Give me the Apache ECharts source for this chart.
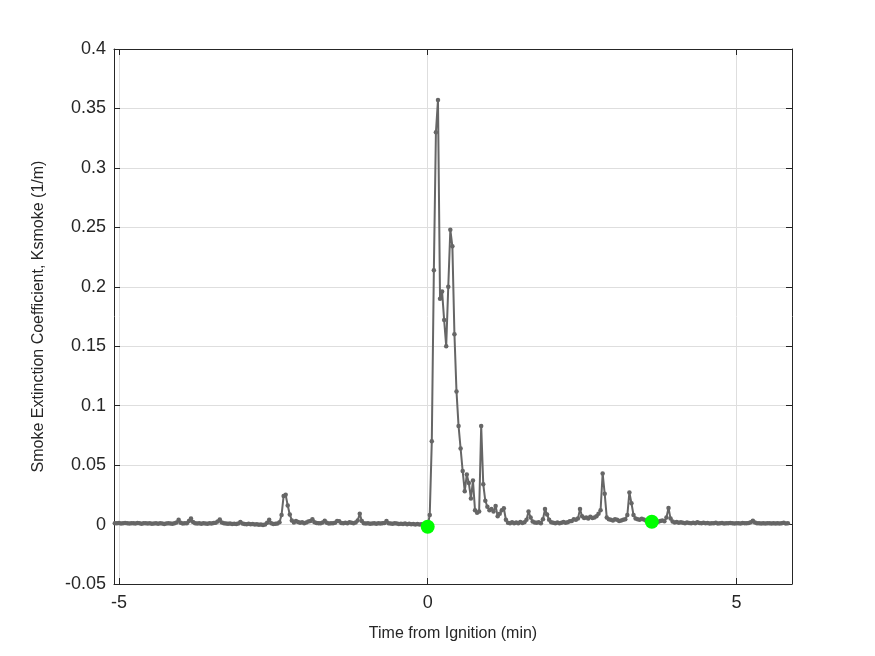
<!DOCTYPE html>
<html>
<head>
<meta charset="utf-8">
<script src="https://cdn.jsdelivr.net/npm/echarts@6/dist/echarts.min.js"></script>
<style>
  html, body { margin: 0; padding: 0; background: #fff; }
  #chart { width: 875px; height: 656px; }
</style>
</head>
<body>
<div id="chart"></div>
<script>
// samples every 2 s, index 152 is ignition (t = 0)
const stepMin = 1 / 30;
const ignitionIndex = 152;

const ksmoke = [
  0.0012, 0.0010, 0.0013, 0.0009, 0.0011, 0.0014, 0.0010, 0.0008, 0.0012, 0.0011,
  0.0009, 0.0013, 0.0010, 0.0007, 0.0011, 0.0012, 0.0008, 0.0010, 0.0006, 0.0009,
  0.0011, 0.0007, 0.0010, 0.0008, 0.0005, 0.0009, 0.0012, 0.0008, 0.0006, 0.0010,
  0.0018, 0.0040, 0.0015, 0.0008, 0.0010, 0.0012, 0.0030, 0.0050, 0.0022, 0.0011,
  0.0009, 0.0012, 0.0007, 0.0010, 0.0008, 0.0006, 0.0011, 0.0009, 0.0013, 0.0016,
  0.0025, 0.0042, 0.0018, 0.0010, 0.0008, 0.0006, 0.0009, 0.0004, 0.0007, 0.0005,
  0.0009, 0.0022, 0.0008, 0.0005, 0.0003, 0.0006, 0.0002, 0.0004, 0.0000, 0.0003,
  -0.0002, 0.0001, -0.0004, 0.0000, 0.0015, 0.0040, 0.0012, 0.0004, 0.0006, 0.0008,
  0.0020, 0.0080, 0.0240, 0.0250, 0.0160, 0.0085, 0.0035, 0.0018, 0.0030, 0.0022,
  0.0015, 0.0020, 0.0012, 0.0018, 0.0025, 0.0030, 0.0045, 0.0020, 0.0014, 0.0010,
  0.0012, 0.0018, 0.0032, 0.0015, 0.0008, 0.0012, 0.0010, 0.0016, 0.0030, 0.0028,
  0.0014, 0.0010, 0.0016, 0.0012, 0.0020, 0.0015, 0.0011, 0.0018, 0.0035, 0.0090,
  0.0030, 0.0012, 0.0008, 0.0010, 0.0006, 0.0009, 0.0012, 0.0007, 0.0010, 0.0008,
  0.0011, 0.0014, 0.0030, 0.0012, 0.0009, 0.0006, 0.0010, 0.0008, 0.0005, 0.0007,
  0.0004, 0.0008, 0.0003, 0.0006, 0.0002, 0.0005, 0.0001, 0.0004, 0.0000, 0.0003,
  0.0000, 0.0001, -0.0010, 0.0080, 0.0700, 0.2140, 0.3300, 0.3570, 0.1900, 0.1960,
  0.1720, 0.1500, 0.2000, 0.2480, 0.2340, 0.1600, 0.1120, 0.0830, 0.0640, 0.0450,
  0.0280, 0.0420, 0.0350, 0.0220, 0.0370, 0.0120, 0.0100, 0.0110, 0.0830, 0.0340,
  0.0200, 0.0150, 0.0120, 0.0130, 0.0110, 0.0156, 0.0070, 0.0090, 0.0120, 0.0137,
  0.0040, 0.0015, 0.0010, 0.0020, 0.0012, 0.0018, 0.0010, 0.0022, 0.0014, 0.0020,
  0.0040, 0.0110, 0.0060, 0.0025, 0.0018, 0.0015, 0.0020, 0.0012, 0.0045, 0.0130,
  0.0085, 0.0040, 0.0020, 0.0015, 0.0010, 0.0018, 0.0012, 0.0015, 0.0022, 0.0016,
  0.0020, 0.0028, 0.0030, 0.0045, 0.0040, 0.0050, 0.0130, 0.0070, 0.0055, 0.0060,
  0.0050, 0.0065, 0.0055, 0.0060, 0.0070, 0.0090, 0.0120, 0.0430, 0.0260, 0.0060,
  0.0045, 0.0040, 0.0035, 0.0045, 0.0040, 0.0030, 0.0035, 0.0040, 0.0045, 0.0080,
  0.0270, 0.0180, 0.0080, 0.0050, 0.0045, 0.0040, 0.0048, 0.0042, 0.0035, 0.0030,
  0.0028, 0.0025, 0.0022, 0.0020, 0.0024, 0.0030, 0.0035, 0.0028, 0.0060, 0.0140,
  0.0050, 0.0025, 0.0018, 0.0022, 0.0015, 0.0020, 0.0016, 0.0012, 0.0018, 0.0014,
  0.0010, 0.0016, 0.0012, 0.0020, 0.0013, 0.0010, 0.0015, 0.0011, 0.0014, 0.0009,
  0.0012, 0.0010, 0.0015, 0.0008, 0.0011, 0.0013, 0.0009, 0.0012, 0.0010, 0.0014,
  0.0011, 0.0008, 0.0012, 0.0010, 0.0009, 0.0013, 0.0011, 0.0010, 0.0014, 0.0020,
  0.0033, 0.0018, 0.0010, 0.0012, 0.0008, 0.0011, 0.0009, 0.0012, 0.0010, 0.0008,
  0.0011, 0.0009, 0.0012, 0.0008, 0.0010, 0.0015, 0.0009, 0.0011
];

// ignition and end-of-burn markers
const eventTimes = [0, 3.63];
const eventK = [-0.0018, 0.0024];

const xTicks = [-5, 0, 5];

const lineData = ksmoke.map((v, i) => [(i - ignitionIndex) * stepMin, v]);
const eventData = eventTimes.map((t, i) => [t, eventK[i]]);

const axisColor = "#262626";
const gridColor = "#dedede";
const font = "'Liberation Sans', Arial, sans-serif";

const chart = echarts.init(document.getElementById("chart"));

const baseX = {
  type: "value",
  min: -5.08,
  max: 5.9,
  axisLine: { show: true, onZero: false, lineStyle: { color: axisColor, width: 1 } },
  axisTick: { show: true, inside: true, length: 6, customValues: xTicks, lineStyle: { color: axisColor } },
  axisLabel: { show: false, customValues: xTicks },
  splitLine: { show: false }
};

const baseY = {
  type: "value",
  min: -0.05,
  max: 0.4,
  interval: 0.05,
  axisLine: { show: true, onZero: false, lineStyle: { color: axisColor, width: 1 } },
  axisTick: { show: true, inside: true, length: 6, lineStyle: { color: axisColor } },
  axisLabel: { show: false },
  splitLine: { show: false }
};

const option = {
  backgroundColor: "#fff",
  animation: false,
  grid: { left: 114, right: 83, top: 49, bottom: 72 },
  xAxis: [
    Object.assign({}, baseX, {
      position: "bottom",
      name: "Time from Ignition (min)",
      nameLocation: "middle",
      nameGap: 42,
      nameTextStyle: { fontFamily: font, fontSize: 16, color: axisColor },
      axisLabel: { show: true, customValues: xTicks, margin: 10, fontFamily: font, fontSize: 18, color: axisColor },
      splitLine: { show: true, lineStyle: { color: gridColor, width: 1 } }
    }),
    Object.assign({}, baseX, { position: "top" })
  ],
  yAxis: [
    Object.assign({}, baseY, {
      position: "left",
      name: "Smoke Extinction Coefficient, Ksmoke (1/m)",
      nameLocation: "middle",
      nameGap: 67,
      nameTextStyle: { fontFamily: font, fontSize: 16, color: axisColor },
      axisLabel: {
        show: true, margin: 8, fontFamily: font, fontSize: 18, color: axisColor,
        formatter: v => String(+v.toFixed(2))
      },
      splitLine: { show: true, lineStyle: { color: gridColor, width: 1 } }
    }),
    Object.assign({}, baseY, { position: "right" })
  ],
  series: [
    {
      type: "line",
      data: lineData,
      showSymbol: true,
      symbol: "circle",
      symbolSize: 4.5,
      lineStyle: { color: "#666666", width: 2 },
      itemStyle: { color: "#666666" },
      z: 2
    },
    {
      type: "scatter",
      data: eventData,
      symbol: "circle",
      symbolSize: 14,
      itemStyle: { color: "#00ff00", opacity: 1 },
      z: 3
    }
  ]
};

chart.setOption(option);
</script>
</body>
</html>
